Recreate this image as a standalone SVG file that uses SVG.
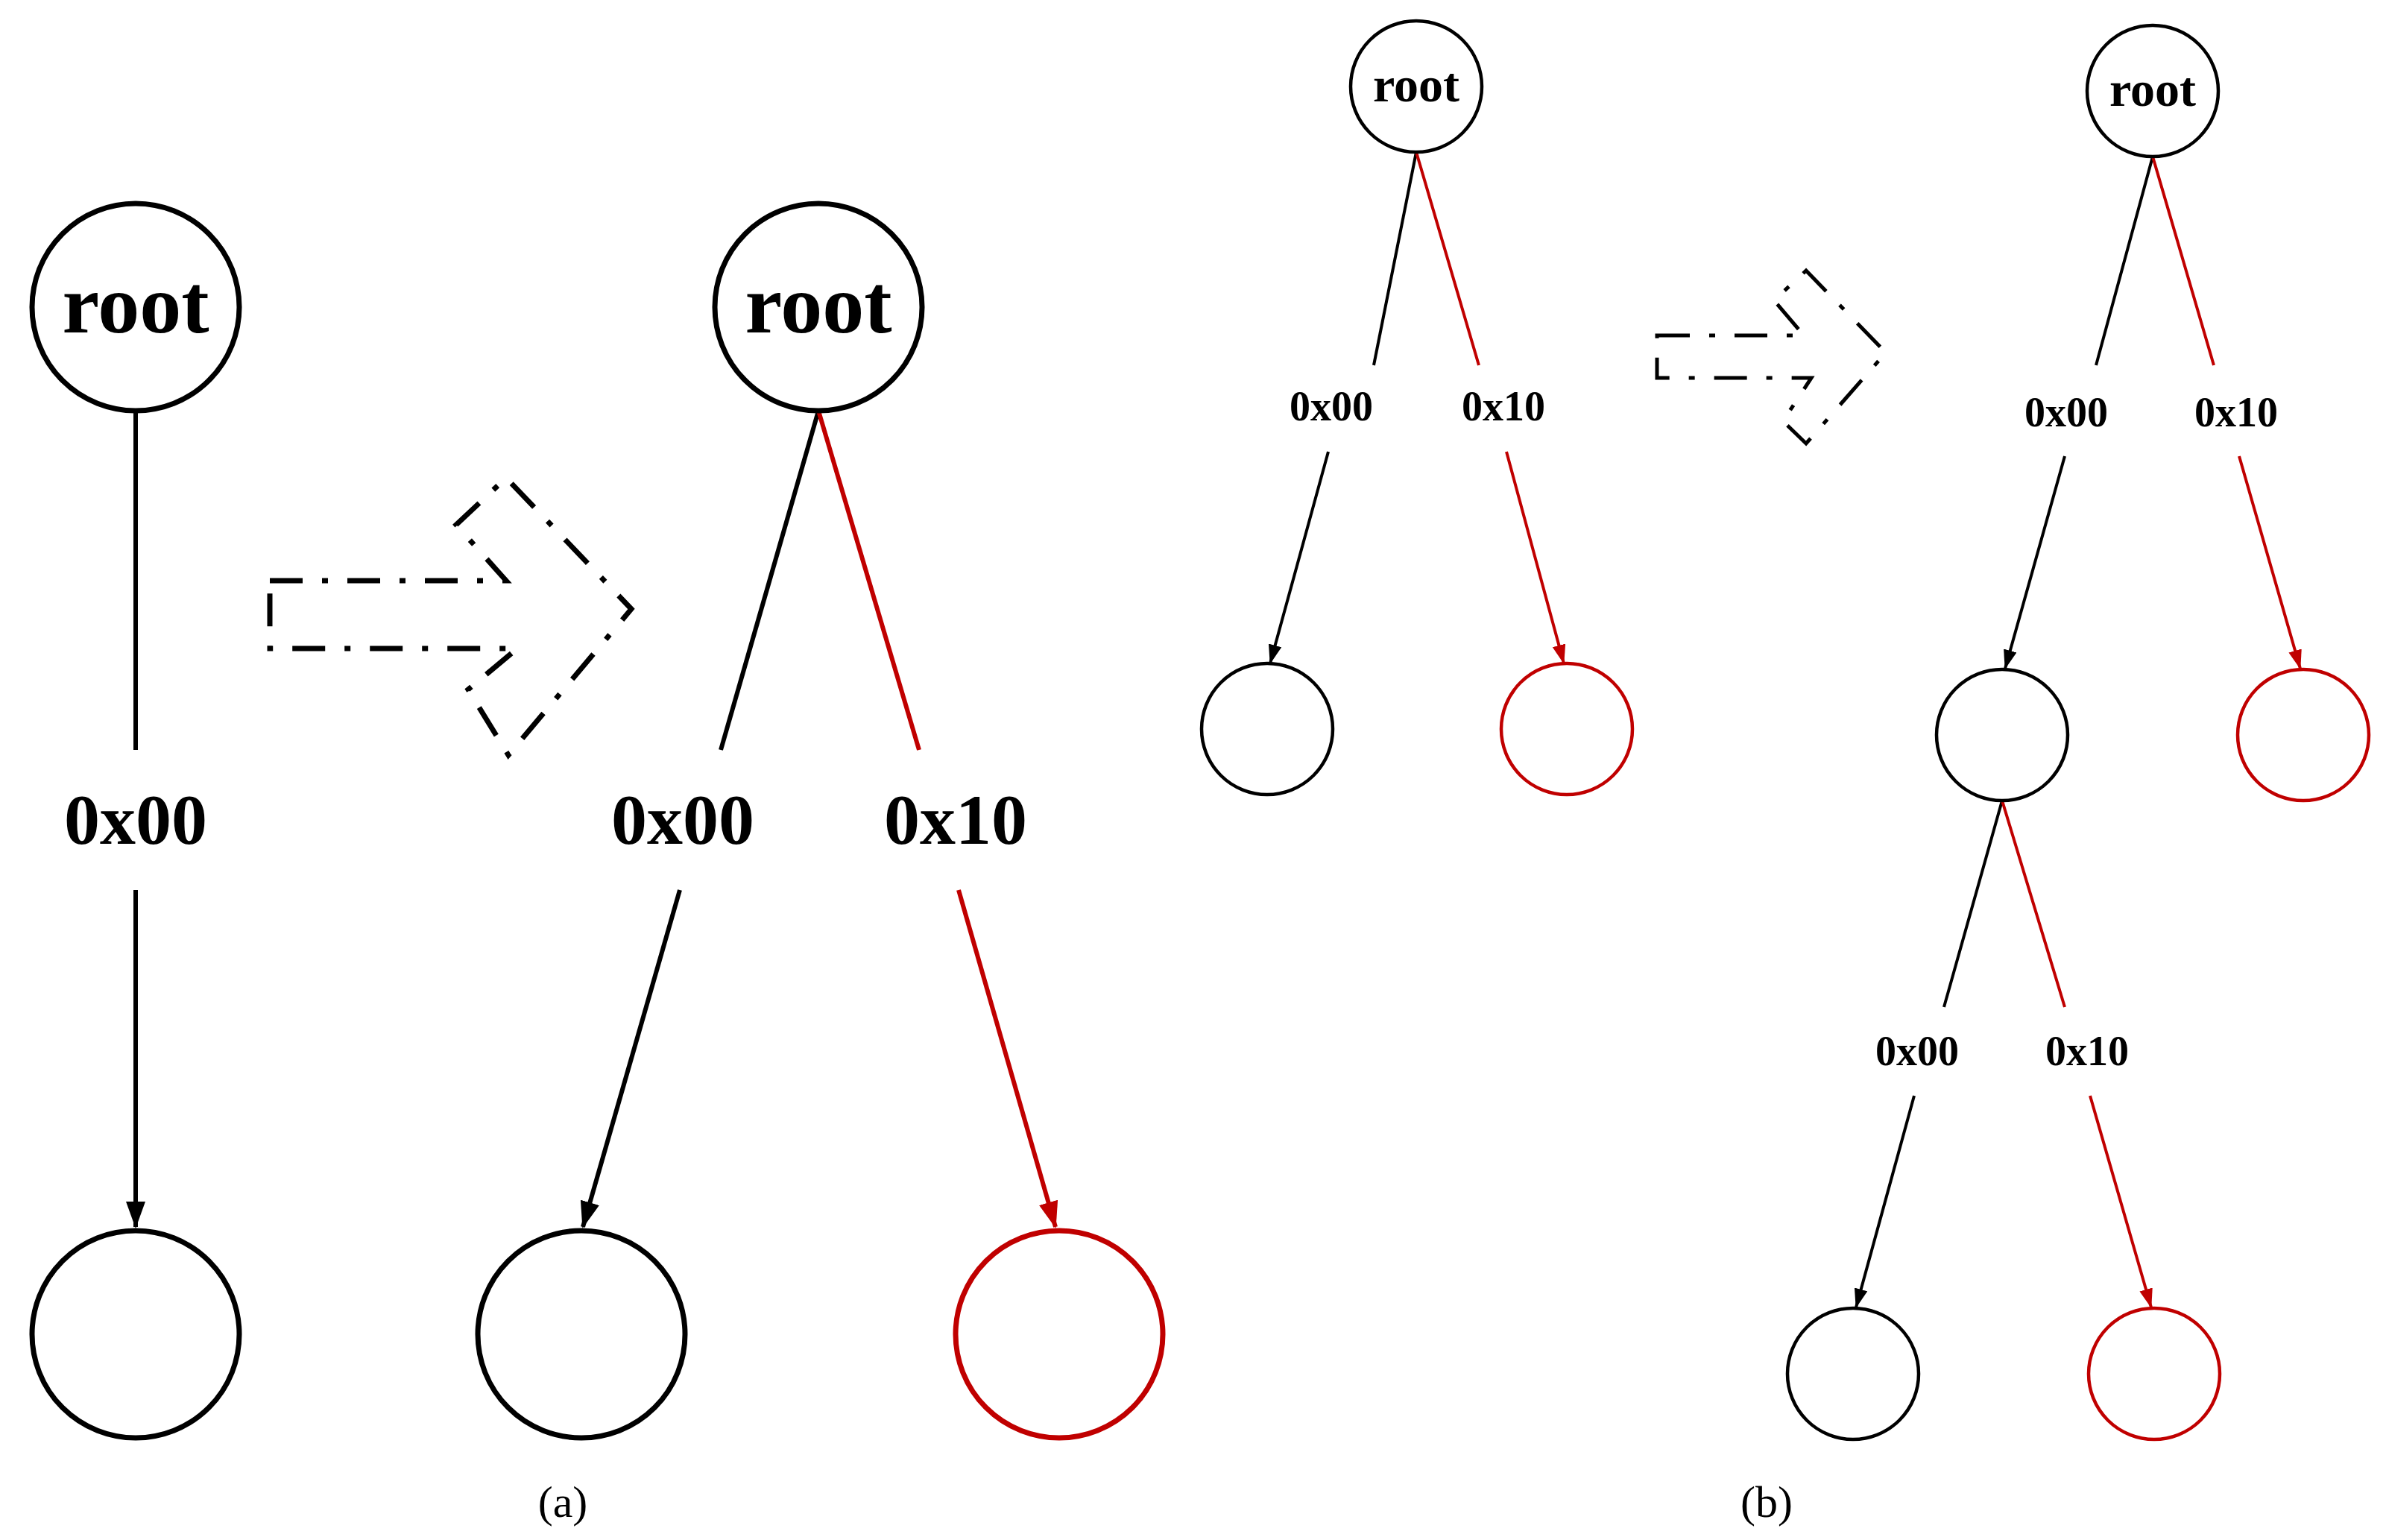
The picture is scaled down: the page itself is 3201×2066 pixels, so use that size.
<svg xmlns="http://www.w3.org/2000/svg" width="3201" height="2066" viewBox="0 0 3201 2066">
<style>
.n{fill:#fff;stroke:#000}
.r{stroke:#c00000}
.a .n{stroke-width:7}
.b .n{stroke-width:4.5}
.t{font-family:"Liberation Serif",serif;font-weight:bold;text-anchor:middle}
.ta{font-size:112px}
.tb{font-size:66px}
.l{font-family:"Liberation Serif",serif;font-weight:bold;text-anchor:middle}
.la{font-size:96px}
.lb{font-size:56px}
.e{fill:none;stroke:#000}
.ea{stroke-width:6}
.eb{stroke-width:4}
.red{stroke:#c00000}
.cap{font-family:"Liberation Serif",serif;font-size:60px;text-anchor:middle}
.da{fill:none;stroke:#000;stroke-dasharray:44 26 8 26}
</style>
<defs>
<marker id="ha" markerUnits="userSpaceOnUse" markerWidth="36" markerHeight="26" refX="34" refY="13" orient="auto"><path d="M0,0 L36,13 L0,26 z" fill="#000"/></marker>
<marker id="har" markerUnits="userSpaceOnUse" markerWidth="36" markerHeight="26" refX="34" refY="13" orient="auto"><path d="M0,0 L36,13 L0,26 z" fill="#c00000"/></marker>
<marker id="hb" markerUnits="userSpaceOnUse" markerWidth="26" markerHeight="18" refX="25" refY="9" orient="auto"><path d="M0,0 L26,9 L0,18 z" fill="#000"/></marker>
<marker id="hbr" markerUnits="userSpaceOnUse" markerWidth="26" markerHeight="18" refX="25" refY="9" orient="auto"><path d="M0,0 L26,9 L0,18 z" fill="#c00000"/></marker>
</defs>
<g id="connectors">
<line class="e ea" x1="182" y1="551" x2="182" y2="1006"/>
<line class="e ea" x1="182" y1="1194" x2="182" y2="1646" marker-end="url(#ha)"/>
<line class="e ea" x1="1098" y1="551" x2="967" y2="1006"/>
<line class="e ea red" x1="1098" y1="551" x2="1233" y2="1006"/>
<line class="e ea" x1="912" y1="1194" x2="782" y2="1646" marker-end="url(#ha)"/>
<line class="e ea red" x1="1286" y1="1194" x2="1416" y2="1646" marker-end="url(#har)"/>
<line class="e eb" x1="1900" y1="204" x2="1843" y2="490"/>
<line class="e eb red" x1="1900" y1="204" x2="1984" y2="490"/>
<line class="e eb" x1="1782" y1="606" x2="1704" y2="890" marker-end="url(#hb)"/>
<line class="e eb red" x1="2021" y1="606" x2="2098" y2="890" marker-end="url(#hbr)"/>
<line class="e eb" x1="2888" y1="210" x2="2812" y2="490"/>
<line class="e eb red" x1="2888" y1="210" x2="2970" y2="490"/>
<line class="e eb" x1="2770" y1="612" x2="2690" y2="897" marker-end="url(#hb)"/>
<line class="e eb red" x1="3004" y1="612" x2="3086" y2="897" marker-end="url(#hbr)"/>
<line class="e eb" x1="2686" y1="1074" x2="2608" y2="1351"/>
<line class="e eb red" x1="2686" y1="1074" x2="2770" y2="1351"/>
<line class="e eb" x1="2568" y1="1470" x2="2490" y2="1754" marker-end="url(#hb)"/>
<line class="e eb red" x1="2804" y1="1470" x2="2886" y2="1754" marker-end="url(#hbr)"/>
</g>
<g id="labels">
<text class="l la" x="182" y="1132">0x00</text>
<text class="l la" x="916" y="1132">0x00</text>
<text class="l la" x="1282" y="1132">0x10</text>
<text class="l lb" x="1786" y="564">0x00</text>
<text class="l lb" x="2017" y="564">0x10</text>
<text class="l lb" x="2772" y="572">0x00</text>
<text class="l lb" x="3000" y="572">0x10</text>
<text class="l lb" x="2572" y="1429">0x00</text>
<text class="l lb" x="2800" y="1429">0x10</text>
</g>
<g class="a">
<g id="a-root1"><circle class="n" cx="182" cy="412" r="139"/><text class="t ta" x="182" y="446">root</text></g>
<g id="a-leaf1"><circle class="n" cx="182" cy="1790" r="139"/></g>
<g id="a-root2"><circle class="n" cx="1098" cy="412" r="139"/><text class="t ta" x="1098" y="446">root</text></g>
<g id="a-leaf2"><circle class="n" cx="780" cy="1790" r="139"/></g>
<g id="a-leaf3"><circle class="n r" cx="1421" cy="1790" r="139"/></g>
</g>
<g class="b">
<g id="b-root1"><circle class="n" cx="1900" cy="116" r="88"/><text class="t tb" x="1900" y="136">root</text></g>
<g id="b-leaf1"><circle class="n" cx="1700" cy="978" r="88"/></g>
<g id="b-leaf2"><circle class="n r" cx="2102" cy="978" r="88"/></g>
<g id="b-root2"><circle class="n" cx="2888" cy="122" r="88"/><text class="t tb" x="2888" y="142">root</text></g>
<g id="b-mid"><circle class="n" cx="2686" cy="986" r="88"/></g>
<g id="b-mid-red"><circle class="n r" cx="3090" cy="986" r="88"/></g>
<g id="b-leaf3"><circle class="n" cx="2486" cy="1843" r="88"/></g>
<g id="b-leaf4"><circle class="n r" cx="2890" cy="1843" r="88"/></g>
</g>
<g id="transform-arrow-a"><path class="da" stroke-width="7" d="M362,779 L679,779 L612,704 L679,641 L847,817 L682,1013 L628,925 L694,870 L362,870 Z"/></g>
<g id="transform-arrow-b"><path class="da" stroke-width="5" stroke-dasharray="30 18 5 18" d="M2223,450 L2420,450 L2380,403 L2423,363 L2530,473 L2423,595 L2392,565 L2430,507 L2223,507 Z"/></g>
<text class="cap" x="755" y="2035">(a)</text>
<text class="cap" x="2370" y="2035">(b)</text>
</svg>
